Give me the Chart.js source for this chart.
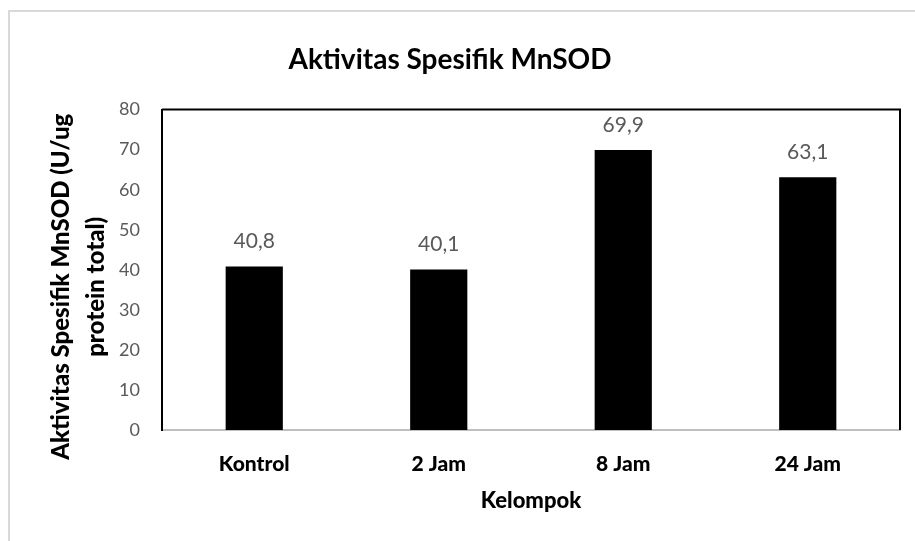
<!DOCTYPE html>
<html>
<head>
    <title>Aktivitas Spesifik MnSOD</title>
    <script src="https://cdn.jsdelivr.net/npm/chart.js"></script>
    <style>
        body {
            margin: 0;
            background-color: white;
            overflow: hidden;
        }
        .frame {
            position: absolute;
            left: 8px;
            top: 10px;
            width: 930px;
            height: 560px;
            border: 2px solid #d9d9d9;
        }
        .chart-box {
            position: absolute;
            left: 0;
            top: 0;
            width: 915px;
            height: 541px;
        }
    </style>
</head>
<body>
    <div class="frame"></div>
    <div class="chart-box">
        <canvas id="mnsodChart"></canvas>
    </div>

    <script>
        const groups = ['Kontrol', '2 Jam', '8 Jam', '24 Jam'];
        const activity = [40.8, 40.1, 69.9, 63.1];
        const yTicks = [0, 10, 20, 30, 40, 50, 60, 70, 80];
        const yTitleLines = ['Aktivitas Spesifik MnSOD (U/ug', 'protein total)'];

        const FONT = "Lato, 'Open Sans', sans-serif";
        const HEAVY = 900;

        // black frame on top/right of the plot area
        const plotFrame = {
            id: 'plotFrame',
            afterDatasetsDraw(chart) {
                const {ctx, chartArea} = chart;
                ctx.save();
                ctx.strokeStyle = '#000';
                ctx.lineWidth = 2;
                ctx.beginPath();
                ctx.moveTo(chartArea.left, chartArea.top);
                ctx.lineTo(chartArea.right, chartArea.top);
                ctx.lineTo(chartArea.right, chartArea.bottom);
                ctx.stroke();
                ctx.restore();
            }
        };

        // value labels above the bars, comma decimals
        const valueLabels = {
            id: 'valueLabels',
            afterDatasetsDraw(chart) {
                const ctx = chart.ctx;
                const meta = chart.getDatasetMeta(0);
                ctx.save();
                ctx.font = '21px ' + FONT;
                ctx.fillStyle = '#595959';
                ctx.textAlign = 'center';
                ctx.textBaseline = 'middle';
                meta.data.forEach((bar, i) => {
                    const txt = activity[i].toFixed(1).replace('.', ',');
                    ctx.fillText(txt, bar.x, bar.y - 25);
                });
                ctx.restore();
            }
        };

        // y axis title: the built-in one squeezes lines longer than the plot height
        const yTitle = {
            id: 'yTitle',
            afterDraw(chart) {
                const {ctx, chartArea} = chart;
                const midY = (chartArea.top + chartArea.bottom) / 2 + 17;
                ctx.save();
                ctx.font = HEAVY + ' 24px ' + FONT;
                ctx.fillStyle = '#000';
                ctx.textAlign = 'center';
                ctx.textBaseline = 'middle';
                yTitleLines.forEach((line, i) => {
                    ctx.save();
                    ctx.translate(chartArea.left - 101 + i * 35, midY);
                    ctx.rotate(-Math.PI / 2);
                    ctx.fillText(line, 0, 0);
                    ctx.restore();
                });
                ctx.restore();
            }
        };

        const ctx = document.getElementById('mnsodChart').getContext('2d');
        const mnsodChart = new Chart(ctx, {
            type: 'bar',
            data: {
                labels: groups,
                datasets: [{
                    data: activity,
                    backgroundColor: '#000',
                    borderWidth: 0,
                    categoryPercentage: 1,
                    barPercentage: 0.31
                }]
            },
            options: {
                responsive: true,
                maintainAspectRatio: false,
                animation: false,
                layout: {
                    padding: { left: 0, right: 15, top: 0, bottom: 0 }
                },
                plugins: {
                    legend: { display: false },
                    tooltip: { enabled: false },
                    title: {
                        display: true,
                        text: 'Aktivitas Spesifik MnSOD',
                        color: '#000',
                        font: { family: FONT, size: 28, weight: 'bold', lineHeight: 1.2 },
                        padding: { top: 43, bottom: 33 }
                    }
                },
                scales: {
                    x: {
                        grid: { display: false, drawTicks: false },
                        border: { display: true, color: '#bfbfbf', width: 2 },
                        ticks: {
                            color: '#000',
                            padding: 22,
                            font: { family: FONT, size: 21, weight: HEAVY }
                        },
                        title: {
                            display: true,
                            text: 'Kelompok',
                            color: '#000',
                            font: { family: FONT, size: 22, weight: HEAVY, lineHeight: 1.2 },
                            padding: { top: 0, bottom: 27 }
                        },
                        afterFit(scale) {
                            scale.height = 111;
                        }
                    },
                    y: {
                        min: 0,
                        max: 80,
                        grid: { display: false, drawTicks: false },
                        border: { display: true, color: '#000', width: 2 },
                        afterBuildTicks(scale) {
                            scale.ticks = yTicks.map(v => ({ value: v }));
                        },
                        ticks: {
                            color: '#595959',
                            padding: 22,
                            font: { family: FONT, size: 18 }
                        },
                        afterFit(scale) {
                            scale.width = 162;
                        }
                    }
                }
            },
            plugins: [plotFrame, valueLabels, yTitle]
        });
    </script>
</body>
</html>
